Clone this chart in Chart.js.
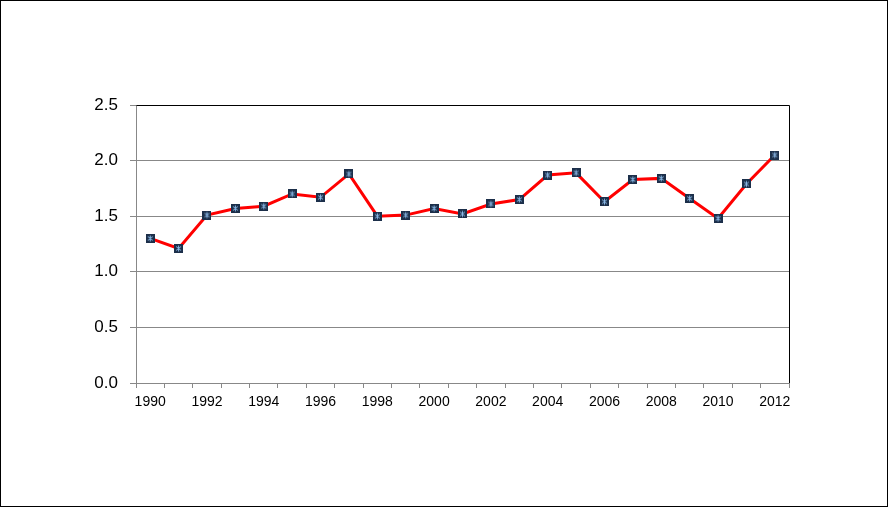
<!DOCTYPE html>
<html>
<head>
<meta charset="utf-8">
<script src="https://cdn.jsdelivr.net/npm/chart.js@4"></script>
<style>
  html, body { margin: 0; padding: 0; background: #fff; }
  #wrap { width: 888px; height: 507px; }
</style>
</head>
<body>
<div id="wrap"><canvas id="chart" width="888" height="507"></canvas></div>
<script>
const years = ['1990','1991','1992','1993','1994','1995','1996','1997','1998','1999','2000','2001',
               '2002','2003','2004','2005','2006','2007','2008','2009','2010','2011','2012'];
const values = [1.30, 1.21, 1.51, 1.57, 1.59, 1.70, 1.67, 1.88, 1.50, 1.51, 1.57, 1.52,
                1.61, 1.65, 1.87, 1.89, 1.63, 1.83, 1.84, 1.66, 1.48, 1.79, 2.05];
const yTicks = [0, 0.5, 1.0, 1.5, 2.0, 2.5];

// marker: dark square with a light blue star
function makeMarker() {
    const c = document.createElement('canvas');
    c.width = 9; c.height = 9;
    const g = c.getContext('2d');
    g.fillStyle = '#1c2f4a';
    g.fillRect(0, 0, 9, 9);
    g.strokeStyle = '#8ab8e6';
    g.lineWidth = 1;
    g.beginPath();
    g.moveTo(4.5, 1.5); g.lineTo(4.5, 7.5);
    g.moveTo(2, 2.5); g.lineTo(7, 6.5);
    g.moveTo(7, 2.5); g.lineTo(2, 6.5);
    g.stroke();
    return c;
}
const marker = makeMarker();

const frame = {
    id: 'frame',
    beforeDraw(chart) {
        const ctx = chart.ctx;
        ctx.save();
        ctx.fillStyle = '#fff';
        ctx.fillRect(0, 0, chart.width, chart.height);
        ctx.restore();
    },
    afterDraw(chart) {
        const ctx = chart.ctx;
        const a = chart.chartArea;
        ctx.save();
        ctx.strokeStyle = '#000';
        ctx.lineWidth = 1;
        ctx.beginPath();
        ctx.moveTo(Math.round(a.left) + 0.5, Math.round(a.top) + 0.5);
        ctx.lineTo(Math.round(a.right) + 0.5, Math.round(a.top) + 0.5);
        ctx.lineTo(Math.round(a.right) + 0.5, Math.round(a.bottom));
        ctx.stroke();
        ctx.strokeRect(0.5, 0.5, chart.width - 1, chart.height - 1);
        ctx.restore();
    }
};

new Chart(document.getElementById('chart').getContext('2d'), {
    type: 'line',
    data: {
        labels: years,
        datasets: [{
            data: values,
            borderColor: '#ff0000',
            borderWidth: 3,
            tension: 0,
            pointStyle: marker,
            pointRadius: 4,
            pointHoverRadius: 4
        }]
    },
    options: {
        responsive: false,
        animation: false,
        layout: { padding: { left: 0, top: 105, right: 99, bottom: 0 } },
        plugins: { legend: { display: false }, tooltip: { enabled: false } },
        scales: {
            x: {
                offset: true,
                grid: { offset: true, drawOnChartArea: false, color: '#888', tickLength: 5 },
                border: { color: '#888' },
                ticks: {
                    autoSkip: false,
                    maxRotation: 0,
                    padding: 6,
                    color: '#000',
                    font: { family: "'Liberation Sans', Arial, sans-serif", size: 14 },
                    callback: (v, i) => (i % 2 === 0 ? years[i] : '')
                },
                afterFit: (s) => { s.height = 507 - 383; }
            },
            y: {
                min: 0,
                max: 2.5,
                afterBuildTicks: (s) => { s.ticks = yTicks.map(v => ({ value: v })); },
                grid: { color: '#888', tickLength: 6 },
                border: { color: '#888' },
                ticks: {
                    padding: 12,
                    color: '#000',
                    font: { family: "'Liberation Sans', Arial, sans-serif", size: 17 },
                    callback: (v) => v.toFixed(1)
                },
                afterFit: (s) => { s.width = 136; }
            }
        }
    },
    plugins: [frame]
});
</script>
</body>
</html>
